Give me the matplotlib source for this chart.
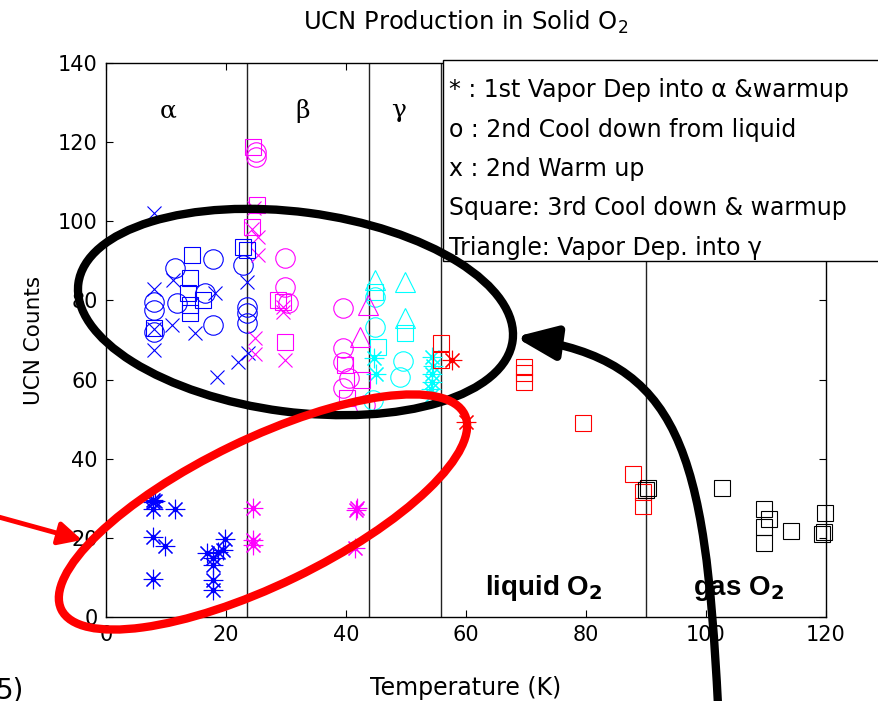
import matplotlib
matplotlib.use("Agg")
import matplotlib.pyplot as plt
from matplotlib.patches import Ellipse, Rectangle, FancyArrowPatch, ArrowStyle
from matplotlib.path import Path

# temperature (K) / UCN counts, one list pair per symbol+colour
blue_star_T = [7.8, 7.8, 8.2, 7.8, 11.5, 7.8, 9.8, 7.8, 16.8, 17.8, 17.8, 17.8, 17.8, 19.5, 19.8, 18.7]
blue_star_N = [29.5, 29.0, 29.2, 27.3, 27.3, 20.2, 17.9, 9.6, 16.2, 14.9, 13.1, 9.4, 6.8, 16.9, 19.7, 16.4]
mag_star_T = [24.5, 24.5, 24.5, 41.8, 41.6, 41.5]
mag_star_N = [27.5, 19.5, 18.2, 27.5, 27.0, 17.4]
red_star_T = [57.7, 60.0]
red_star_N = [65.0, 49.3]
cyan_star_T = [44.6, 45.0, 54.3, 54.5, 54.4, 54.3, 54.2, 54.4]
cyan_star_N = [65.5, 61.5, 65.7, 63.5, 61.5, 59.5, 57.5, 56.0]

blue_circ_T = [17.8, 11.5, 8.0, 8.0, 11.8, 16.5, 17.8, 8.0, 22.8, 23.5, 23.5, 23.5]
blue_circ_N = [90.5, 88.2, 79.6, 77.6, 79.3, 81.9, 73.8, 72.0, 89.0, 78.3, 76.8, 74.3]
mag_circ_T = [25.0, 25.0, 29.8, 29.8, 30.3, 39.5, 39.5, 39.5, 39.5, 43.2, 40.5]
mag_circ_N = [117.5, 116.3, 90.7, 83.4, 79.3, 78.1, 68.0, 64.4, 58.0, 53.6, 60.4]
cyan_circ_T = [44.8, 44.8, 49.5, 49.0, 44.5]
cyan_circ_N = [80.9, 73.3, 64.6, 60.7, 54.8]

blue_x_T = [8.0, 8.0, 8.0, 8.0, 11.0, 11.2, 14.8, 18.2, 18.5, 22.0, 23.5, 23.7]
blue_x_N = [102.0, 83.0, 67.5, 72.8, 73.8, 85.2, 71.8, 81.9, 60.7, 64.4, 84.7, 66.7]
mag_x_T = [24.6, 24.3, 25.3, 25.3, 24.8, 24.8, 29.5, 29.5, 29.8]
mag_x_N = [103.4, 98.0, 96.0, 91.5, 70.5, 66.5, 78.3, 77.0, 65.0]

blue_sq_T = [14.3, 14.0, 13.7, 16.2, 14.0, 14.0, 8.0, 22.8, 23.5]
blue_sq_N = [91.5, 85.7, 82.0, 80.1, 76.8, 78.8, 73.0, 93.5, 92.7]
mag_sq_T = [24.5, 25.1, 24.3, 28.7, 29.5, 29.8, 39.8, 40.2, 42.7]
mag_sq_N = [118.8, 104.0, 98.6, 80.1, 79.6, 69.5, 63.7, 55.3, 59.9]
cyan_sq_T = [44.8, 49.8, 45.3]
cyan_sq_N = [82.1, 71.8, 68.2]
red_sq_T = [55.8, 55.8, 69.7, 69.7, 69.7, 79.5, 87.8, 89.5, 89.5]
red_sq_N = [69.2, 65.0, 63.2, 61.7, 59.4, 49.0, 36.1, 31.6, 28.0]
black_sq_T = [90.3, 90.0, 102.7, 109.7, 109.7, 109.7, 110.5, 114.2, 119.8, 119.3, 119.6]
black_sq_N = [32.6, 32.0, 32.6, 27.3, 22.8, 18.7, 24.8, 21.7, 26.3, 21.0, 21.5]

mag_tri_T = [43.7, 42.3]
mag_tri_N = [78.8, 70.8]
cyan_tri_T = [44.8, 49.8, 49.8]
cyan_tri_N = [85.2, 84.7, 75.6]

phase_T = [23.5, 43.8, 55.9, 90.0]
phase_names = ["\u03b1", "\u03b2", "\u03b3"]
phase_name_T = [10.3, 32.7, 48.7]

legend_lines = ["* : 1st Vapor Dep into \u03b1 &warmup",
                "o : 2nd Cool down from liquid",
                "x : 2nd Warm up",
                "Square: 3rd Cool down & warmup",
                "Triangle: Vapor Dep. into \u03b3"]

BLUE, MAG, CYAN, RED = "#0000ff", "#ff00ff", "#00ffff", "#ff0000"
STAR = (8, 2, 0)

fig = plt.figure(figsize=(8.79, 7.01), dpi=100)
ax = fig.add_axes([0.1206, 0.1198, 0.8191, 0.7903])

def pts(T, N, marker, color, ms):
    ax.plot(T, N, linestyle="none", marker=marker, mfc="none", mec=color,
            ms=ms, mew=0.8, clip_on=False, zorder=3)

for T, N, c in [(blue_star_T, blue_star_N, BLUE), (mag_star_T, mag_star_N, MAG),
                (red_star_T, red_star_N, RED), (cyan_star_T, cyan_star_N, CYAN)]:
    pts(T, N, STAR, c, 14)
    ax.plot(T, N, linestyle="none", marker="o", color=c, ms=3, zorder=3)
for T, N, c in [(blue_circ_T, blue_circ_N, BLUE), (mag_circ_T, mag_circ_N, MAG),
                (cyan_circ_T, cyan_circ_N, CYAN)]:
    pts(T, N, "o", c, 14)
for T, N, c in [(blue_x_T, blue_x_N, BLUE), (mag_x_T, mag_x_N, MAG)]:
    pts(T, N, "x", c, 10.5)
for T, N, c in [(blue_sq_T, blue_sq_N, BLUE), (mag_sq_T, mag_sq_N, MAG),
                (cyan_sq_T, cyan_sq_N, CYAN), (red_sq_T, red_sq_N, RED),
                (black_sq_T, black_sq_N, "black")]:
    pts(T, N, "s", c, 12)
for T, N, c in [(mag_tri_T, mag_tri_N, MAG), (cyan_tri_T, cyan_tri_N, CYAN)]:
    pts(T, N, "^", c, 15)

for t in phase_T:
    ax.axvline(t, color="#222222", lw=1.0, zorder=2)
for name, t in zip(phase_names, phase_name_T):
    ax.text(t, 128, name, fontsize=18, family="DejaVu Serif", ha="center", va="center")
ax.text(73.0, 7.3, r"liquid O$_\mathbf{2}$", fontsize=20, fontweight="bold",
        family="Liberation Sans", ha="center", va="center")
ax.text(105.5, 7.3, r"gas O$_\mathbf{2}$", fontsize=20, fontweight="bold",
        family="Liberation Sans", ha="center", va="center")

ax.set_xlim(0, 120)
ax.set_ylim(0, 140)
ax.set_xticks(range(0, 121, 20))
ax.set_yticks(range(0, 141, 20))
ax.tick_params(direction="in", length=5, top=True, right=True, labelsize=15, pad=6)
for s in ax.spines.values():
    s.set_linewidth(1.0)
ax.set_title("UCN Production in Solid O$_2$", fontsize=17.5, pad=24)
ax.set_xlabel("Temperature (K)", fontsize=17, labelpad=22)
ax.set_ylabel("UCN Counts", fontsize=15.5, labelpad=10)

# overlay in pixel units for the hand-drawn highlights and the note box
ov = fig.add_axes([0, 0, 1, 1], zorder=5)
ov.set_xlim(0, 879)
ov.set_ylim(701, 0)
ov.axis("off")

ov.add_patch(Rectangle((443, 60), 500, 201, fc="white", ec="black", lw=1.0, clip_on=False))
for i, line in enumerate(legend_lines):
    ov.text(449, 90 + 39.5 * i, line, fontsize=17, ha="left", va="center")

ov.add_patch(Ellipse((295.5, 312), 438, 200, angle=7.5, fill=False, ec="black", lw=6))
ov.add_patch(Ellipse((263, 512), 448, 146, angle=-25.8, fill=False, ec=RED, lw=6))

black_arrow = Path([(718, 705), (705, 450), (680, 360), (515, 337)],
                   [Path.MOVETO, Path.CURVE4, Path.CURVE4, Path.CURVE4])
ov.add_patch(FancyArrowPatch(path=black_arrow, arrowstyle=ArrowStyle("-|>", head_length=1.1, head_width=0.45),
                             mutation_scale=22, lw=6, color="black", shrinkA=0, shrinkB=0))
red_arrow = Path([(-5, 516), (82, 540)], [Path.MOVETO, Path.LINETO])
ov.add_patch(FancyArrowPatch(path=red_arrow, arrowstyle=ArrowStyle("-|>", head_length=1.0, head_width=0.5),
                             mutation_scale=14, lw=3.5, color=RED, shrinkA=0, shrinkB=0))
ov.text(-4, 690, "5)", fontsize=20, ha="left", va="center")

fig.savefig("out.png", dpi=100)
